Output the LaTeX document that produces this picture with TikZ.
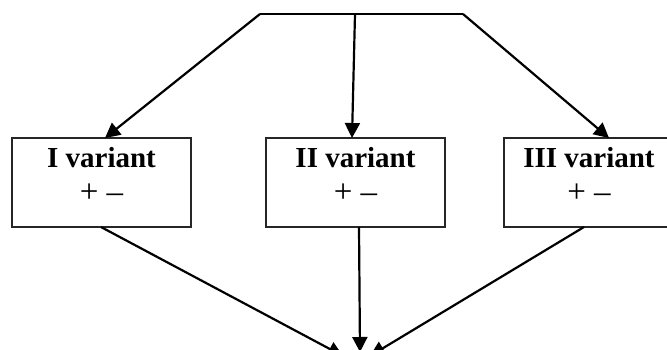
\documentclass[tikz,border=0pt]{standalone}
\usepackage{fontspec}
\setmainfont{Liberation Serif}
\usetikzlibrary{arrows.meta}
\tikzset{
  varbox/.style={draw, line width=2pt, draw=black!85, minimum width=179pt, minimum height=89pt, inner sep=0pt, outer sep=0pt},
  title/.style={font=\fontsize{29}{34}\selectfont\bfseries, inner sep=0pt},
  sign/.style={font=\fontsize{33}{34}\selectfont, inner sep=0pt},
  conn/.style={line width=2.2pt},
  arr/.style={conn, -{Triangle[length=15pt,width=15pt]}}
}
\begin{document}
\begin{tikzpicture}[x=1pt,y=-1pt]
\clip (0,0) rectangle (667,349);
\fill[white] (0,0) rectangle (667,349);
% boxes
\node[varbox] (b1) at (101.5,182.5) {};
\node[varbox] (b2) at (355.5,182.5) {};
\node[varbox] (b3) at (593.5,182.5) {};
% labels
\node[title] (t1) at (101.5,158) {I variant};
\node[sign]  (s1) at (101.5,193) {+ –};
\node[title] (t2) at (355.5,158) {II variant};
\node[sign]  (s2) at (355.5,193) {+ –};
\node[title] (t3) at (589,158) {III variant};
\node[sign]  (s3) at (589,193) {+ –};
% top fork
\coordinate (tl) at (260,14);
\coordinate (tm) at (355,14);
\coordinate (tr) at (463,14);
\draw[conn] (tl) -- (tr);
\draw[arr] (tl) -- ([xshift=3.5pt]b1.north);
\draw[arr] (tm) -- ([xshift=-3.5pt]b2.north);
\draw[arr] (tr) -- ([xshift=15.5pt]b3.north);
% bottom convergence
\coordinate (e1) at (343,356);
\coordinate (e2) at (360,352);
\coordinate (e3) at (370,356);
\draw[arr] ([xshift=-0.5pt]b1.south) -- (e1);
\draw[arr] ([xshift=3.5pt]b2.south) -- (e2);
\draw[arr] ([xshift=-9.5pt]b3.south) -- (e3);
\end{tikzpicture}
\end{document}
